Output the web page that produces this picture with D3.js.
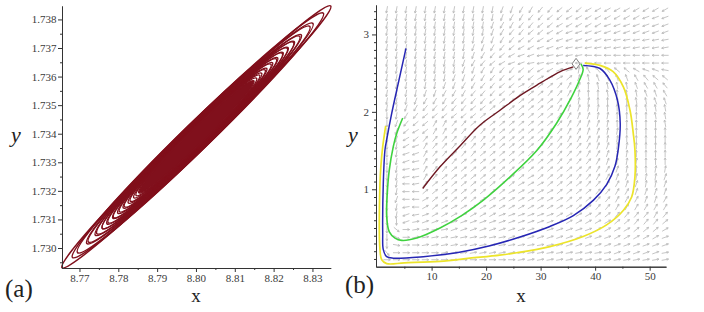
<!DOCTYPE html>
<html>
<head>
<meta charset="utf-8">
<script src="https://cdn.jsdelivr.net/npm/d3@7"></script>
<style>
  body { margin: 0; background: #fff; }
  .domain, .tick line { stroke: #333; }
  .lbl { font-family: "Liberation Serif", "Times New Roman", serif; fill: #222; }
</style>
</head>
<body>
<svg id="chart" width="704" height="312"></svg>
<script>
// ---------- panel (a): spiral around the weak focus ----------
var xTicksA = [8.77, 8.78, 8.79, 8.80, 8.81, 8.82, 8.83];
var yTicksA = [1.730, 1.731, 1.732, 1.733, 1.734, 1.735, 1.736, 1.737, 1.738];

// loops of the orbit, outermost first; the last one is the dense core
var loopCX = 8.8001, loopCY = 1.73389, axisSlope = 0.1324;
var loopHalfX = [0.0346, 0.0323, 0.0303, 0.0287, 0.0274, 0.0263, 0.0254, 0.0246, 0.0239, 0.0232, 0.0225,
                 0.0218, 0.0211, 0.0204, 0.0197, 0.0190, 0.0183, 0.0176, 0.0169, 0.0162, 0.0155, 0.0148];
var loopHalfY = [0.00061, 0.00066, 0.00065, 0.00064, 0.00062, 0.00061, 0.00060, 0.00058, 0.00057, 0.00056, 0.00054,
                 0.00053, 0.00051, 0.00050, 0.00048, 0.00047, 0.00045, 0.00044, 0.00042, 0.00040, 0.00039, 0.00037];
var loopShift = [0, 0.0004, -0.0003, 0.0005, -0.0004, 0.0003, -0.0002, 0.0004, -0.0003, 0.0002, -0.0002,
                 0.0003, -0.0002, 0.0002, -0.0001, 0.0002, -0.0002, 0.0001, -0.0001, 0.0001, 0, 0];

// ---------- panel (b): direction field + trajectories ----------
var xTicksB = [10, 20, 30, 40, 50];
var yTicksB = [1, 2, 3];

var fieldX = [1.8, 3.56, 5.32, 7.08, 8.84, 10.6, 12.36, 14.12, 15.88, 17.64, 19.4, 21.16, 22.92, 24.68, 26.44,
              28.2, 29.96, 31.72, 33.48, 35.24, 37.0, 38.76, 40.52, 42.28, 44.04, 45.8, 47.56, 49.32, 51.08, 52.84];
var fieldY = [3.32, 3.22, 3.12, 3.03, 2.93, 2.83, 2.73, 2.63, 2.54, 2.44, 2.34, 2.24, 2.14, 2.05, 1.95, 1.85, 1.75,
              1.65, 1.56, 1.46, 1.36, 1.26, 1.16, 1.07, 0.97, 0.87, 0.77, 0.67, 0.58, 0.48, 0.38, 0.28, 0.18, 0.09];
// arrow directions, one char per arrow: base-36 digit * 10 degrees (0 = right, 9 = up, i = left, r = down)
var fieldDir = [
  "qqqqq qqqqq qqppo onnmm mllll lllll",
  "qqqqq qqqqq qqpoo nnmml lllll llkkk",
  "qqqqq qqqqq qpoon nmmll lllkk kkkkk",
  "qqqqq qqqqq qponn mmllk kkkkk kkkkk",
  "qqqqq qqqqq pponm mllkk kkkjj jjjjj",
  "qqqqq qqqqp ponml lkkkj jjjjj jjjjj",
  "qqqqq qqqqp onmlk kjjjj jiiii iiiii",
  "qqqqq qqqpo nmlkk jjjji iiiii iiiii",
  "qqqqq qqqpp oonnm mll22 8cdde efggh",
  "qqqqq qqppo onnmm m3334 7abbb bcdee",
  "qqqqq qppoo nnmm3 44456 79aaa abccd",
  "qqqqp pooon nnm44 44556 899a9 aabbc",
  "qqqpo oonnn nm444 44456 88999 9aabb",
  "qqpon nnnnm m4444 44467 78899 99aaa",
  "rqonm mmmmm 44444 44456 77889 999aa",
  "rpnmm 66554 54444 44456 67789 9999a",
  "rpmlm 66555 55444 44556 67788 99999",
  "rplm5 55555 55444 44556 66788 99999",
  "rqlk6 55555 54444 44555 56778 89999",
  "rqkk6 55555 44444 44455 56678 89999",
  "rqkj6 55544 44444 44455 55678 88999",
  "rqjj6 55444 44444 44444 45667 89988",
  "rqjj6 54444 44444 34444 55667 78887",
  "rqij5 44444 44443 33444 45566 77887",
  "rqii4 44444 44433 33344 44556 67777",
  "rpii3 44444 33333 33334 44556 66776",
  "rqji3 43333 33333 33333 44556 66666",
  "rqkj2 33333 33222 22233 33445 55565",
  "rrk12 22222 22222 22233 33334 45554",
  "rw011 11222 22222 22222 22333 34443",
  "rx011 11111 11122 22222 22223 33332",
  "rz001 11111 11111 11122 22222 22222",
  "v0000 01111 11111 11111 11112 22221",
  "00000 00000 00001 11111 11111 11111"
];

var blueX = [5.30, 3.89, 2.68, 1.76, 1.45, 1.14, 1.03, 1.14, 1.76, 2.97, 8.48, 14.6, 20.7, 26.5, 31.7, 36.0, 39.7, 42.1, 43.65, 44.3, 44.6, 44.1, 42.7, 40.9, 37.8];
var blueY = [2.82, 2.37, 1.98, 1.64, 1.51, 1.08, 0.43, 0.22, 0.13, 0.11, 0.13, 0.18, 0.27, 0.39, 0.52, 0.66, 0.86, 1.06, 1.30, 1.55, 1.85, 2.15, 2.41, 2.56, 2.60];
var yellowX = [1.58, 1.03, 0.7, 0.53, 0.53, 0.85, 1.76, 5.0, 11.54, 17.0, 22.5, 25.6, 31.7, 37.8, 42.1, 45.2, 46.7, 47.3, 47.3, 47.0, 46.4, 45.2, 43.3, 40.9, 38.1];
var yellowY = [1.82, 1.55, 1.30, 1.08, 0.22, 0.09, 0.04, 0.05, 0.07, 0.11, 0.15, 0.18, 0.26, 0.39, 0.54, 0.73, 0.90, 1.16, 1.51, 1.72, 2.02, 2.32, 2.52, 2.60, 2.63];
var greenX = [4.70, 3.60, 2.97, 2.24, 1.87, 1.76, 2.24, 3.29, 4.51, 7.27, 11.54, 15.5, 19.5, 24.4, 29.3, 32.9, 35.6, 37.2, 37.8, 37.4];
var greenY = [1.92, 1.72, 1.55, 1.25, 0.95, 0.65, 0.45, 0.37, 0.34, 0.37, 0.50, 0.66, 0.86, 1.16, 1.50, 1.85, 2.18, 2.42, 2.55, 2.62];
var brownX = [8.37, 11.54, 15.2, 18.9, 22.55, 26.2, 29.9, 33.6, 36.0];
var brownY = [1.01, 1.29, 1.56, 1.83, 2.02, 2.21, 2.37, 2.52, 2.58];
var equilibrium = [36.5, 2.62];

var svg = d3.select("#chart");
var serif = '"Liberation Serif", "Times New Roman", serif';

function styleAxis(g) {
  g.attr("font-family", serif).attr("font-size", 11);
  g.selectAll("text").style("font-family", serif).style("font-size", "11px").attr("fill", "#3a3a3a");
}

// ===== panel (a) =====
var xA = d3.scaleLinear().domain([8.7655, 8.8347]).range([62, 330.7]);
var yA = d3.scaleLinear().domain([1.7293, 1.73847]).range([268, 6]);

var orbitColor = "#80101c";
var gA = svg.append("g");
loopHalfX.forEach(function(hx, i) {
  var cx = loopCX + loopShift[i], cy = loopCY + loopShift[i] * axisSlope;
  var px = xA(cx), py = yA(cy);
  var tx = xA(cx + hx) - px, ty = yA(cy + hx * axisSlope) - py;
  var a = Math.hypot(tx, ty);
  var wv = py - yA(cy + loopHalfY[i]);
  var sinT = Math.abs(ty) / a, cosT = tx / a;
  var b = cosT / Math.sqrt(1 / (wv * wv) - (sinT * sinT) / (a * a));
  var core = i === loopHalfX.length - 1;
  gA.append("ellipse")
    .attr("cx", px).attr("cy", py)
    .attr("rx", a).attr("ry", b)
    .attr("transform", "rotate(" + (Math.atan2(ty, tx) * 180 / Math.PI) + "," + px + "," + py + ")")
    .attr("fill", core ? orbitColor : "none")
    .attr("stroke", orbitColor)
    .attr("stroke-width", 1.5);
});

function minorBetween(lo, hi, step) {
  var out = [];
  for (var v = lo; v <= hi + 1e-12; v += step) out.push(+v.toFixed(6));
  return out;
}

svg.append("g")
  .attr("transform", "translate(0,268)")
  .call(d3.axisBottom(xA).tickValues(minorBetween(8.775, 8.83, 0.01)).tickSize(2).tickFormat("").tickSizeOuter(0));
svg.append("g")
  .attr("transform", "translate(0,268)")
  .call(d3.axisBottom(xA).tickValues(xTicksA).tickSize(4).tickPadding(2).tickFormat(d3.format(".2f")).tickSizeOuter(0))
  .call(styleAxis);
svg.append("g")
  .attr("transform", "translate(62,0)")
  .call(d3.axisLeft(yA).tickValues(minorBetween(1.7295, 1.738, 0.001)).tickSize(2).tickFormat("").tickSizeOuter(0));
svg.append("g")
  .attr("transform", "translate(62,0)")
  .call(d3.axisLeft(yA).tickValues(yTicksA).tickSize(4).tickPadding(1.5).tickFormat(d3.format(".3f")).tickSizeOuter(0))
  .call(styleAxis);

svg.append("text").attr("class", "lbl").attr("x", 196).attr("y", 302)
  .attr("text-anchor", "middle").style("font-size", "19px").text("x");
svg.append("text").attr("class", "lbl").attr("x", 11).attr("y", 142)
  .style("font-size", "22px").style("font-style", "italic").text("y");
svg.append("text").attr("class", "lbl").attr("x", 5).attr("y", 297)
  .style("font-size", "25px").text("(a)");

// ===== panel (b) =====
var xB = d3.scaleLinear().domain([-0.2, 53]).range([376, 666]);
var yB = d3.scaleLinear().domain([0, 3.38]).range([266.7, 5]);

var arrowLen = 7, headLen = 2.3;
var gF = svg.append("g")
  .attr("fill", "none")
  .attr("stroke", "#bababa")
  .attr("stroke-width", 0.85);
fieldDir.forEach(function(row, j) {
  var codes = row.replace(/ /g, "");
  for (var i = 0; i < codes.length && i < fieldX.length; i++) {
    var ang = parseInt(codes[i], 36) * 10 * Math.PI / 180;
    var cx = xB(fieldX[i]), cy = yB(fieldY[j]);
    var ux = Math.cos(ang), uy = -Math.sin(ang);
    var x1 = cx - ux * arrowLen / 2, y1 = cy - uy * arrowLen / 2;
    var x2 = cx + ux * arrowLen / 2, y2 = cy + uy * arrowLen / 2;
    var h1 = ang + Math.PI * 0.85, h2 = ang - Math.PI * 0.85;
    var d = "M" + x1 + "," + y1 + "L" + x2 + "," + y2 +
      "M" + (x2 + Math.cos(h1) * headLen) + "," + (y2 - Math.sin(h1) * headLen) +
      "L" + x2 + "," + y2 +
      "L" + (x2 + Math.cos(h2) * headLen) + "," + (y2 - Math.sin(h2) * headLen);
    gF.append("path").attr("d", d);
  }
});

var line = d3.line()
  .x(function(d) { return xB(d[0]); })
  .y(function(d) { return yB(d[1]); })
  .curve(d3.curveCatmullRom.alpha(0.5));

function drawTraj(xs, ys, color, w) {
  svg.append("path")
    .datum(xs.map(function(v, k) { return [v, ys[k]]; }))
    .attr("d", line)
    .attr("fill", "none")
    .attr("stroke", color)
    .attr("stroke-width", w);
}
drawTraj(yellowX, yellowY, "#ece42a", 1.7);
drawTraj(blueX, blueY, "#2626b4", 1.5);
drawTraj(greenX, greenY, "#3fd23f", 1.6);
drawTraj(brownX, brownY, "#6e1822", 1.4);

var ex = xB(equilibrium[0]), ey = yB(equilibrium[1]);
svg.append("path")
  .attr("d", "M" + ex + "," + (ey - 5.5) + "L" + (ex + 4) + "," + ey + "L" + ex + "," + (ey + 5.5) + "L" + (ex - 4) + "," + ey + "Z")
  .attr("fill", "none")
  .attr("stroke", "#808080")
  .attr("stroke-width", 1);

svg.append("g")
  .attr("transform", "translate(0,266.7)")
  .call(d3.axisBottom(xB).tickValues([5, 15, 25, 35, 45]).tickSize(2).tickFormat("").tickSizeOuter(0));
svg.append("g")
  .attr("transform", "translate(0,266.7)")
  .call(d3.axisBottom(xB).tickValues(xTicksB).tickSize(4).tickPadding(2).tickFormat(d3.format("d")).tickSizeOuter(0))
  .call(styleAxis);
svg.append("g")
  .attr("transform", "translate(376,0)")
  .call(d3.axisLeft(yB).tickValues(minorBetween(0.1, 3.3, 0.1).filter(function(v) { return Math.abs(v - Math.round(v)) > 1e-6; }))
    .tickSize(2).tickFormat("").tickSizeOuter(0));
svg.append("g")
  .attr("transform", "translate(376,0)")
  .call(d3.axisLeft(yB).tickValues(yTicksB).tickSize(4).tickPadding(3).tickFormat(d3.format("d")).tickSizeOuter(0))
  .call(styleAxis);

svg.append("text").attr("class", "lbl").attr("x", 521).attr("y", 302)
  .attr("text-anchor", "middle").style("font-size", "19px").text("x");
svg.append("text").attr("class", "lbl").attr("x", 348).attr("y", 142)
  .style("font-size", "22px").style("font-style", "italic").text("y");
svg.append("text").attr("class", "lbl").attr("x", 345).attr("y", 293)
  .style("font-size", "25px").text("(b)");
</script>
</body>
</html>
